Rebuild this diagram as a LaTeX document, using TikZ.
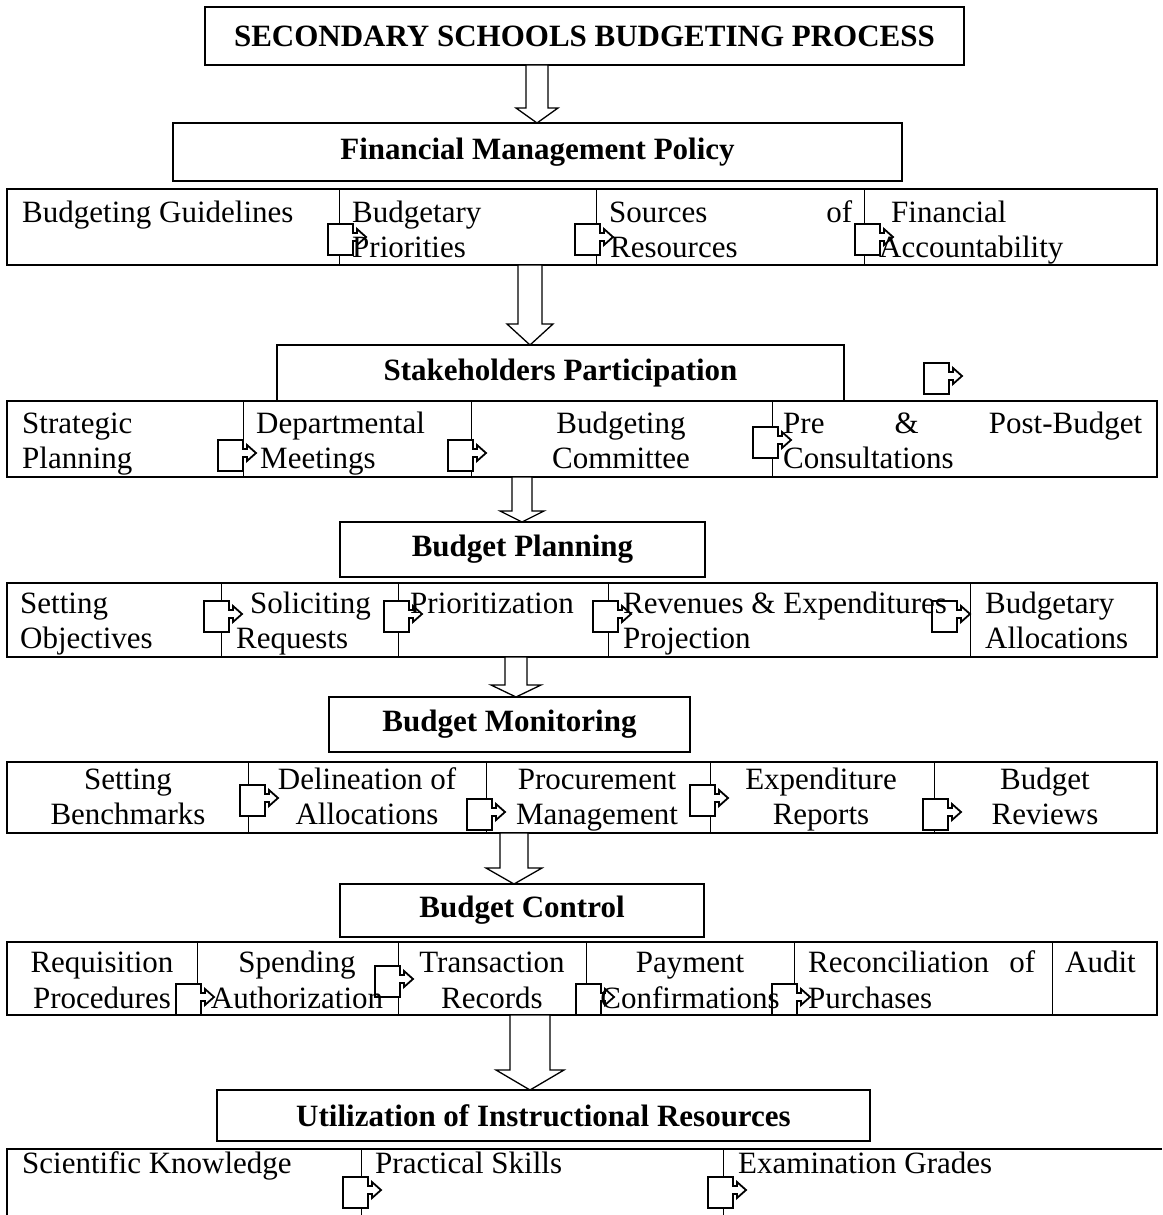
\documentclass[tikz,border=0pt]{standalone}
\usepackage{fontspec}
\setmainfont{Liberation Serif}
\usetikzlibrary{calc}

\newcommand{\hollowarrow}[6]{%
  \draw[blockarrow] (#1-#5,0 |- #2.south) -- (#1+#5,0 |- #2.south)
    -- ($(#1+#5,0 |- #3.north)+(0,-#4)$) -- ($(#1+#6,0 |- #3.north)+(0,-#4)$)
    -- (#1,0 |- #3.north) -- ($(#1-#6,0 |- #3.north)+(0,-#4)$)
    -- ($(#1-#5,0 |- #3.north)+(0,-#4)$) -- cycle;}
\newcommand{\bentarrow}[2]{%
  \draw[bentbox] (#1,#2) -- ++(25,0) -- ++(0,9) -- ++(4,0) -- ++(0,-4) -- ++(9,8)
    -- ++(-9,8) -- ++(0,-4) -- ++(-4,0) -- ++(0,14) -- ++(-25,0) -- cycle;}

\begin{document}
\begin{tikzpicture}[x=1pt,y=-1pt,
                headbox/.style={draw,line width=1.6pt,inner sep=0pt,outer sep=0pt,font=\bfseries\fontsize{31}{35}\selectfont},
                rowbox/.style={draw,line width=2.5pt,inner sep=0pt,outer sep=0pt,minimum width=1150},
                divider/.style={line width=1pt},
                cell/.style={anchor=base west,inner sep=0pt,font=\fontsize{31}{35}\selectfont},
                midcell/.style={anchor=base,inner sep=0pt,font=\fontsize{31}{35}\selectfont},
                blockarrow/.style={draw,fill=white,line width=1.3pt,line join=miter},
                bentbox/.style={draw,fill=white,line width=1.8pt,line join=miter}
                ]
                \useasboundingbox (0,0) rectangle (1162,1215);
                \node [headbox,line width=2pt,minimum width=759,minimum height=58] (title) at (584.5,36) {SECONDARY SCHOOLS BUDGETING PROCESS};
                \node [headbox,minimum width=729,minimum height=58] (fmp) at (537.5,152) {Financial Management Policy};
                \node [headbox,minimum width=567,minimum height=56] (stake) at (560.5,373) {Stakeholders Participation};
                \node [headbox,minimum width=365,minimum height=55] (bplan) at (522.5,549.5) {Budget Planning};
                \node [headbox,minimum width=361,minimum height=55] (bmon) at (509.5,724.5) {Budget Monitoring};
                \node [headbox,minimum width=364,minimum height=53] (bctrl) at (522,910.5) {Budget Control};
                \node [headbox,minimum width=653,minimum height=51] (util) at (543.5,1115.5) {Utilization of Instructional Resources};

                \node [rowbox,minimum height=76] (row1) at (582,227) {};
                \node [rowbox,minimum height=76] (row2) at (582,439) {};
                \node [rowbox,minimum height=74] (row3) at (582,620) {};
                \node [rowbox,minimum height=71] (row4) at (582,797.5) {};
                \node [rowbox,minimum height=73] (row5) at (582,978.5) {};
                \node [rowbox,draw=none,minimum width=1155,minimum height=66] (row6) at (584.5,1182) {};
                \draw [line width=2.5pt] (row6.north east) -- (row6.north west) -- (row6.south west);

                \foreach \x in {339,596,864} \draw [divider] (\x,0 |- row1.north) -- (\x,0 |- row1.south);
                \foreach \x in {243,471,772} \draw [divider] (\x,0 |- row2.north) -- (\x,0 |- row2.south);
                \foreach \x in {221,398,608,970} \draw [divider] (\x,0 |- row3.north) -- (\x,0 |- row3.south);
                \foreach \x in {248,486,710,934} \draw [divider] (\x,0 |- row4.north) -- (\x,0 |- row4.south);
                \foreach \x in {197,398,586,794,1052} \draw [divider] (\x,0 |- row5.north) -- (\x,0 |- row5.south);
                \foreach \x in {361,723} \draw [divider] (\x,0 |- row6.north) -- (\x,0 |- row6.south);

                \hollowarrow{537}{title}{fmp}{15}{11}{21}
                \hollowarrow{530}{row1}{stake}{21}{12}{23}
                \hollowarrow{522}{row2}{bplan}{11}{10}{22}
                \hollowarrow{516}{row3}{bmon}{12}{11}{25}
                \hollowarrow{514}{row4}{bctrl}{16}{14}{28}
                \hollowarrow{530}{row5}{util}{20}{20}{34}

                \bentarrow{328}{224} \bentarrow{575}{224} \bentarrow{855}{224}
                \bentarrow{924}{363}
                \bentarrow{218}{440} \bentarrow{448}{440} \bentarrow{753}{427}
                \bentarrow{204}{601} \bentarrow{384}{601} \bentarrow{593}{601} \bentarrow{932}{601}
                \bentarrow{240}{785} \bentarrow{467}{799} \bentarrow{690}{785} \bentarrow{923}{799}
                \bentarrow{176}{984} \bentarrow{375}{966} \bentarrow{576}{984} \bentarrow{772}{984}
                \bentarrow{343}{1177} \bentarrow{708}{1177}

                \node [cell] (guide) at (22,222) {Budgeting Guidelines};
                \node [cell] (prio1) at (352,222) {Budgetary};
                \node [cell] (prio2) at (352,257) {Priorities};
                \node [cell] (src1) at (609,222) {\makebox[243pt][l]{Sources\hfill of}};
                \node [cell] (src2) at (610,257) {Resources};
                \node [cell] (acc1) at (891,222) {Financial};
                \node [cell] (acc2) at (879,257) {Accountability};

                \node [cell] (strat1) at (22,433) {Strategic};
                \node [cell] (strat2) at (22,468) {Planning};
                \node [cell] (dept1) at (256,433) {Departmental};
                \node [cell] (dept2) at (260,468) {Meetings};
                \node [midcell] (comm1) at (621,433) {Budgeting};
                \node [midcell] (comm2) at (621,468) {Committee};
                \node [cell] (cons1) at (783,433) {\makebox[359pt][l]{Pre\hfill\&\hfill Post-Budget}};
                \node [cell] (cons2) at (783,468) {Consultations};

                \node [cell] (obj1) at (20,613) {Setting};
                \node [cell] (obj2) at (20,648) {Objectives};
                \node [cell] (req1) at (250,613) {Soliciting};
                \node [cell] (req2) at (236,648) {Requests};
                \node [cell] (prior) at (410,613) {Prioritization};
                \node [cell] (proj1) at (623,613) {Revenues \& Expenditures};
                \node [cell] (proj2) at (623,648) {Projection};
                \node [cell] (alloc1) at (985,613) {Budgetary};
                \node [cell] (alloc2) at (985,648) {Allocations};

                \node [midcell] (bench1) at (128,789) {Setting};
                \node [midcell] (bench2) at (128,824) {Benchmarks};
                \node [midcell] (delin1) at (367,789) {Delineation of};
                \node [midcell] (delin2) at (367,824) {Allocations};
                \node [midcell] (proc1) at (597,789) {Procurement};
                \node [midcell] (proc2) at (597,824) {Management};
                \node [midcell] (exp1) at (821,789) {Expenditure};
                \node [midcell] (exp2) at (821,824) {Reports};
                \node [midcell] (rev1) at (1045,789) {Budget};
                \node [midcell] (rev2) at (1045,824) {Reviews};

                \node [midcell] (requ1) at (102,972) {Requisition};
                \node [midcell] (requ2) at (102,1008) {Procedures};
                \node [midcell] (auth1) at (297,972) {Spending};
                \node [midcell] (auth2) at (297,1008) {Authorization};
                \node [midcell] (trans1) at (492,972) {Transaction};
                \node [midcell] (trans2) at (492,1008) {Records};
                \node [midcell] (pay1) at (690,972) {Payment};
                \node [midcell] (pay2) at (690,1008) {Confirmations};
                \node [cell] (recon1) at (808,972) {\makebox[227pt][l]{Reconciliation\hfill of}};
                \node [cell] (recon2) at (808,1008) {Purchases};
                \node [cell] (audit) at (1065,972) {Audit};

                \node [cell] (sci) at (22,1173) {Scientific Knowledge};
                \node [cell] (skill) at (375,1173) {Practical Skills};
                \node [cell] (exam) at (738,1173) {Examination Grades};
            \end{tikzpicture}
\end{document}
